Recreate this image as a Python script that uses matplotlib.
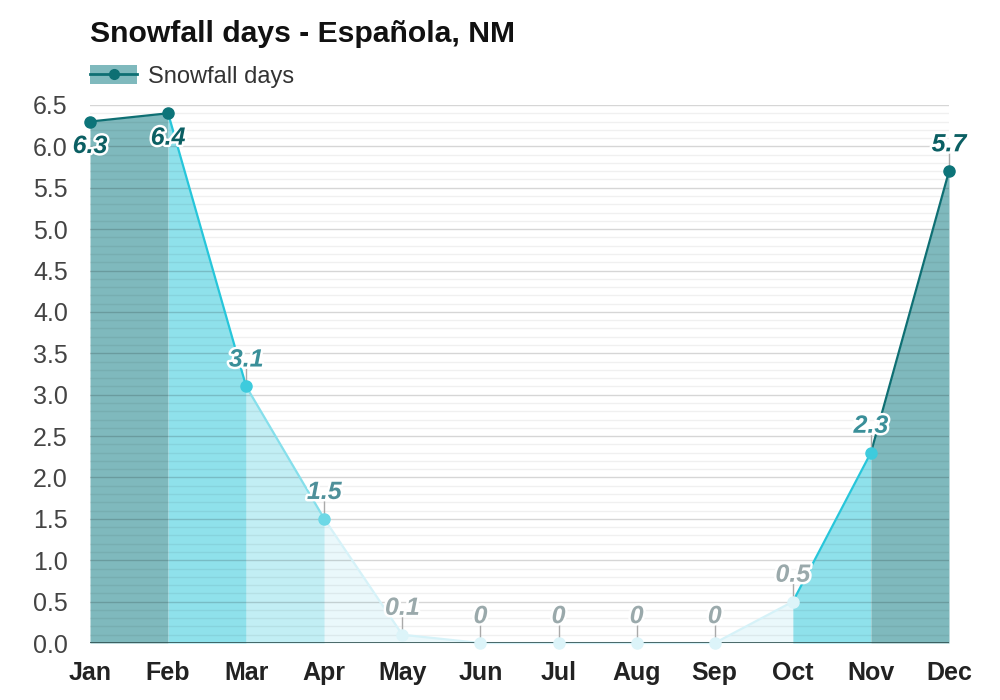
import matplotlib
matplotlib.use("Agg")
import matplotlib.pyplot as plt
import matplotlib.patheffects as pe
from matplotlib.lines import Line2D
from matplotlib.patches import Patch
import numpy as np

plt.rcParams["font.family"] = ["Liberation Sans", "DejaVu Sans"]

months = ["Jan", "Feb", "Mar", "Apr", "May", "Jun", "Jul", "Aug", "Sep", "Oct", "Nov", "Dec"]
snow_days = [6.3, 6.4, 3.1, 1.5, 0.1, 0, 0, 0, 0, 0.5, 2.3, 5.7]
label_text = ["6.3", "6.4", "3.1", "1.5", "0.1", "0", "0", "0", "0", "0.5", "2.3", "5.7"]
title = "Snowfall days - Española, NM"
legend_label = "Snowfall days"
yticks = [0.0, 0.5, 1.0, 1.5, 2.0, 2.5, 3.0, 3.5, 4.0, 4.5, 5.0, 5.5, 6.0, 6.5]


def style(v):
    # (fill, line, marker, label colour)
    if v >= 5:
        return "#7fb9bd", "#0e6f73", "#0d7479", "#0b5f63"
    if v >= 2:
        return "#8fe1eb", "#27c6da", "#3ecbdd", "#3a8f99"
    if v >= 1:
        return "#c2eef4", "#86dfeb", "#6dd8e6", "#4f909a"
    return "#eaf8fb", "#d6f2f8", "#dcf4f9", "#9aa9ab"


fig = plt.figure(figsize=(10, 7), dpi=100)
fig.patch.set_facecolor("white")
ax = fig.add_axes([0.09, 0.0814, 0.859, 0.7686])
x = np.arange(len(months))

for i in range(len(months) - 1):
    fc, lc, _, _ = style(snow_days[i + 1])
    ax.fill_between([x[i], x[i + 1]], [snow_days[i], snow_days[i + 1]], 0,
                    color=fc, lw=0, zorder=1)
    ax.plot([x[i], x[i + 1]], [snow_days[i], snow_days[i + 1]], color=lc, lw=1.6,
            zorder=4, solid_capstyle="round", clip_on=False)

# grid
for v in np.arange(0.1, 6.55, 0.1):
    major = abs(v * 2 - round(v * 2)) < 1e-6
    ax.axhline(v, color="#000000", lw=1.0, zorder=2,
               alpha=0.16 if major else 0.06)
ax.axhline(0, color="#2f4f4f", lw=1.2, zorder=5)

for i, v in enumerate(snow_days):
    _, _, mc, tc = style(v)
    ax.plot(x[i], v, "o", color=mc, ms=8, zorder=6, clip_on=False)
    if i in (0, 1):
        ax.text(x[i], v - 0.15, label_text[i], ha="center", va="top", fontsize=18,
                fontweight="bold", style="italic", color=tc, zorder=7,
                path_effects=[pe.withStroke(linewidth=3.5, foreground="white")])
    else:
        ax.plot([x[i], x[i]], [v + 0.06, v + 0.22], color="#aaaaaa", lw=1, zorder=5,
                clip_on=False)
        ax.text(x[i], v + 0.18, label_text[i], ha="center", va="bottom", fontsize=18,
                fontweight="bold", style="italic", color=tc, zorder=7,
                path_effects=[pe.withStroke(linewidth=3.5, foreground="white")])

ax.set_xlim(0, 11)
ax.set_ylim(0, 6.5)
ax.set_xticks(x)
ax.set_xticklabels(months, fontsize=18, fontweight="bold", color="#222222")
ax.set_yticks(yticks)
ax.set_yticklabels([f"{t:.1f}" for t in yticks], fontsize=18, color="#444444")
ax.tick_params(axis="both", length=0)
ax.tick_params(axis="x", pad=13)
ax.tick_params(axis="y", pad=16)
for s in ax.spines.values():
    s.set_visible(False)

fig.text(0.09, 0.951, title, fontsize=21.7, fontweight="bold", color="#111111",
         ha="left", va="center")

handle = (Patch(facecolor="#7fb9bd", edgecolor="none"),
          Line2D([], [], color="#0e6f73", lw=2, marker="o", ms=7))
leg = fig.legend([handle], [legend_label], loc="center left",
                 bbox_to_anchor=(0.09, 0.891), frameon=False, fontsize=17,
                 borderpad=0, borderaxespad=0,
                 handlelength=2.0, handleheight=0.9, handletextpad=0.47)
for t in leg.get_texts():
    t.set_color("#333333")

fig.savefig("out.png", dpi=100, facecolor="white")
